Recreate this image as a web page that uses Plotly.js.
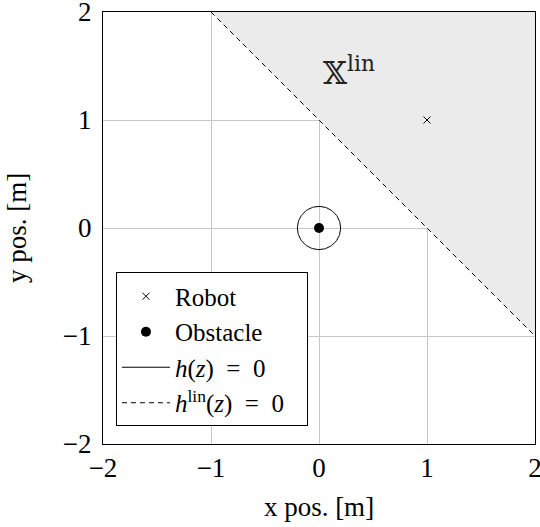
<!DOCTYPE html>
<html><head><meta charset="utf-8">
<script src="https://cdn.plot.ly/plotly-3.0.1.min.js"></script>
<style>body{margin:0;padding:0;background:#fff}#plot{width:540px;height:527px}</style>
</head><body><div id="plot"></div>
<script>
// Data
const robotX = [1], robotY = [1];
const obstacleX = [0], obstacleY = [0];
const obstacleRadius = 0.2;
const linX = [-1, 2], linY = [2, -1];           // h_lin(z) = 0 : x + y = 1
const regionX = [-1, 2, 2], regionY = [2, 2, -1]; // X_lin region
const tickVals = [-2, -1, 0, 1, 2];
const tickText = ['\u22122', '\u22121', '0', '1', '2'];

// circle h(z)=0 built from obstacle center and radius
const circX = [], circY = [];
for (let i = 0; i <= 120; i++) {
  const t = 2 * Math.PI * i / 120;
  circX.push(obstacleX[0] + obstacleRadius * Math.cos(t));
  circY.push(obstacleY[0] + obstacleRadius * Math.sin(t));
}

const font = {family: 'Liberation Serif, Times New Roman, serif', size: 27, color: '#000'};
const legFont = {family: 'Liberation Serif, Times New Roman, serif', size: 25, color: '#000'};
const eq = '\u2002=\u2002';

const traces = [
  {x: regionX, y: regionY, type: 'scatter', mode: 'lines', fill: 'toself',
   fillcolor: '#ebebeb', line: {width: 0}, showlegend: false, hoverinfo: 'skip'},
  {x: robotX, y: robotY, type: 'scatter', mode: 'markers', name: 'Robot',
   marker: {symbol: 'x-thin', size: 7, line: {width: 1, color: '#000'}, color: '#000'}},
  {x: obstacleX, y: obstacleY, type: 'scatter', mode: 'markers', name: 'Obstacle',
   marker: {symbol: 'circle', size: 10, color: '#000'}},
  {x: circX, y: circY, type: 'scatter', mode: 'lines', name: '<i>h</i>(<i>z</i>)' + eq + '0',
   line: {color: '#000', width: 1}},
  {x: linX, y: linY, type: 'scatter', mode: 'lines', name: '<i>h</i><sup>lin</sup>(<i>z</i>)' + eq + '0\u2002\u2009',
   line: {color: '#000', width: 1, dash: '5px,4px'}}
];

const layout = {
  width: 540, height: 527,
  margin: {l: 103, r: 5, t: 12, b: 83},
  paper_bgcolor: '#fff', plot_bgcolor: '#fff',
  font: font,
  showlegend: true,
  legend: {x: 0.03, y: 0.397, xanchor: 'left', yanchor: 'top',
    bgcolor: '#fff', bordercolor: '#000', borderwidth: 1, font: legFont,
    itemwidth: 48, tracegroupgap: 0},
  xaxis: {range: [-2, 2], tickvals: tickVals, ticktext: tickText, showgrid: true,
    gridcolor: '#c8c8c8', gridwidth: 1, zeroline: false, showline: true, mirror: true,
    linecolor: '#000', linewidth: 1, ticks: '', tickfont: font, ticklabeloverflow: 'allow',
    title: {text: 'x pos. [m]', font: font, standoff: 14}},
  yaxis: {range: [-2, 2], tickvals: tickVals, ticktext: tickText, showgrid: true,
    gridcolor: '#c8c8c8', gridwidth: 1, zeroline: false, showline: true, mirror: true,
    linecolor: '#000', linewidth: 1, ticks: '', tickfont: font, ticklabeloverflow: 'allow',
    ticklabelstandoff: 5,
    title: {text: 'y pos. [m]', font: font, standoff: 28}},
  annotations: [
    {x: 0.275, y: 1.45, xref: 'x', yref: 'y', showarrow: false,
     text: '\uD835\uDD4F<sup>lin</sup>', font: {family: 'DejaVu Serif, DejaVu Sans, serif', size: 31, color: '#222'}}
  ]
};

Plotly.newPlot('plot', traces, layout, {displayModeBar: false, staticPlot: true});
</script></body></html>
